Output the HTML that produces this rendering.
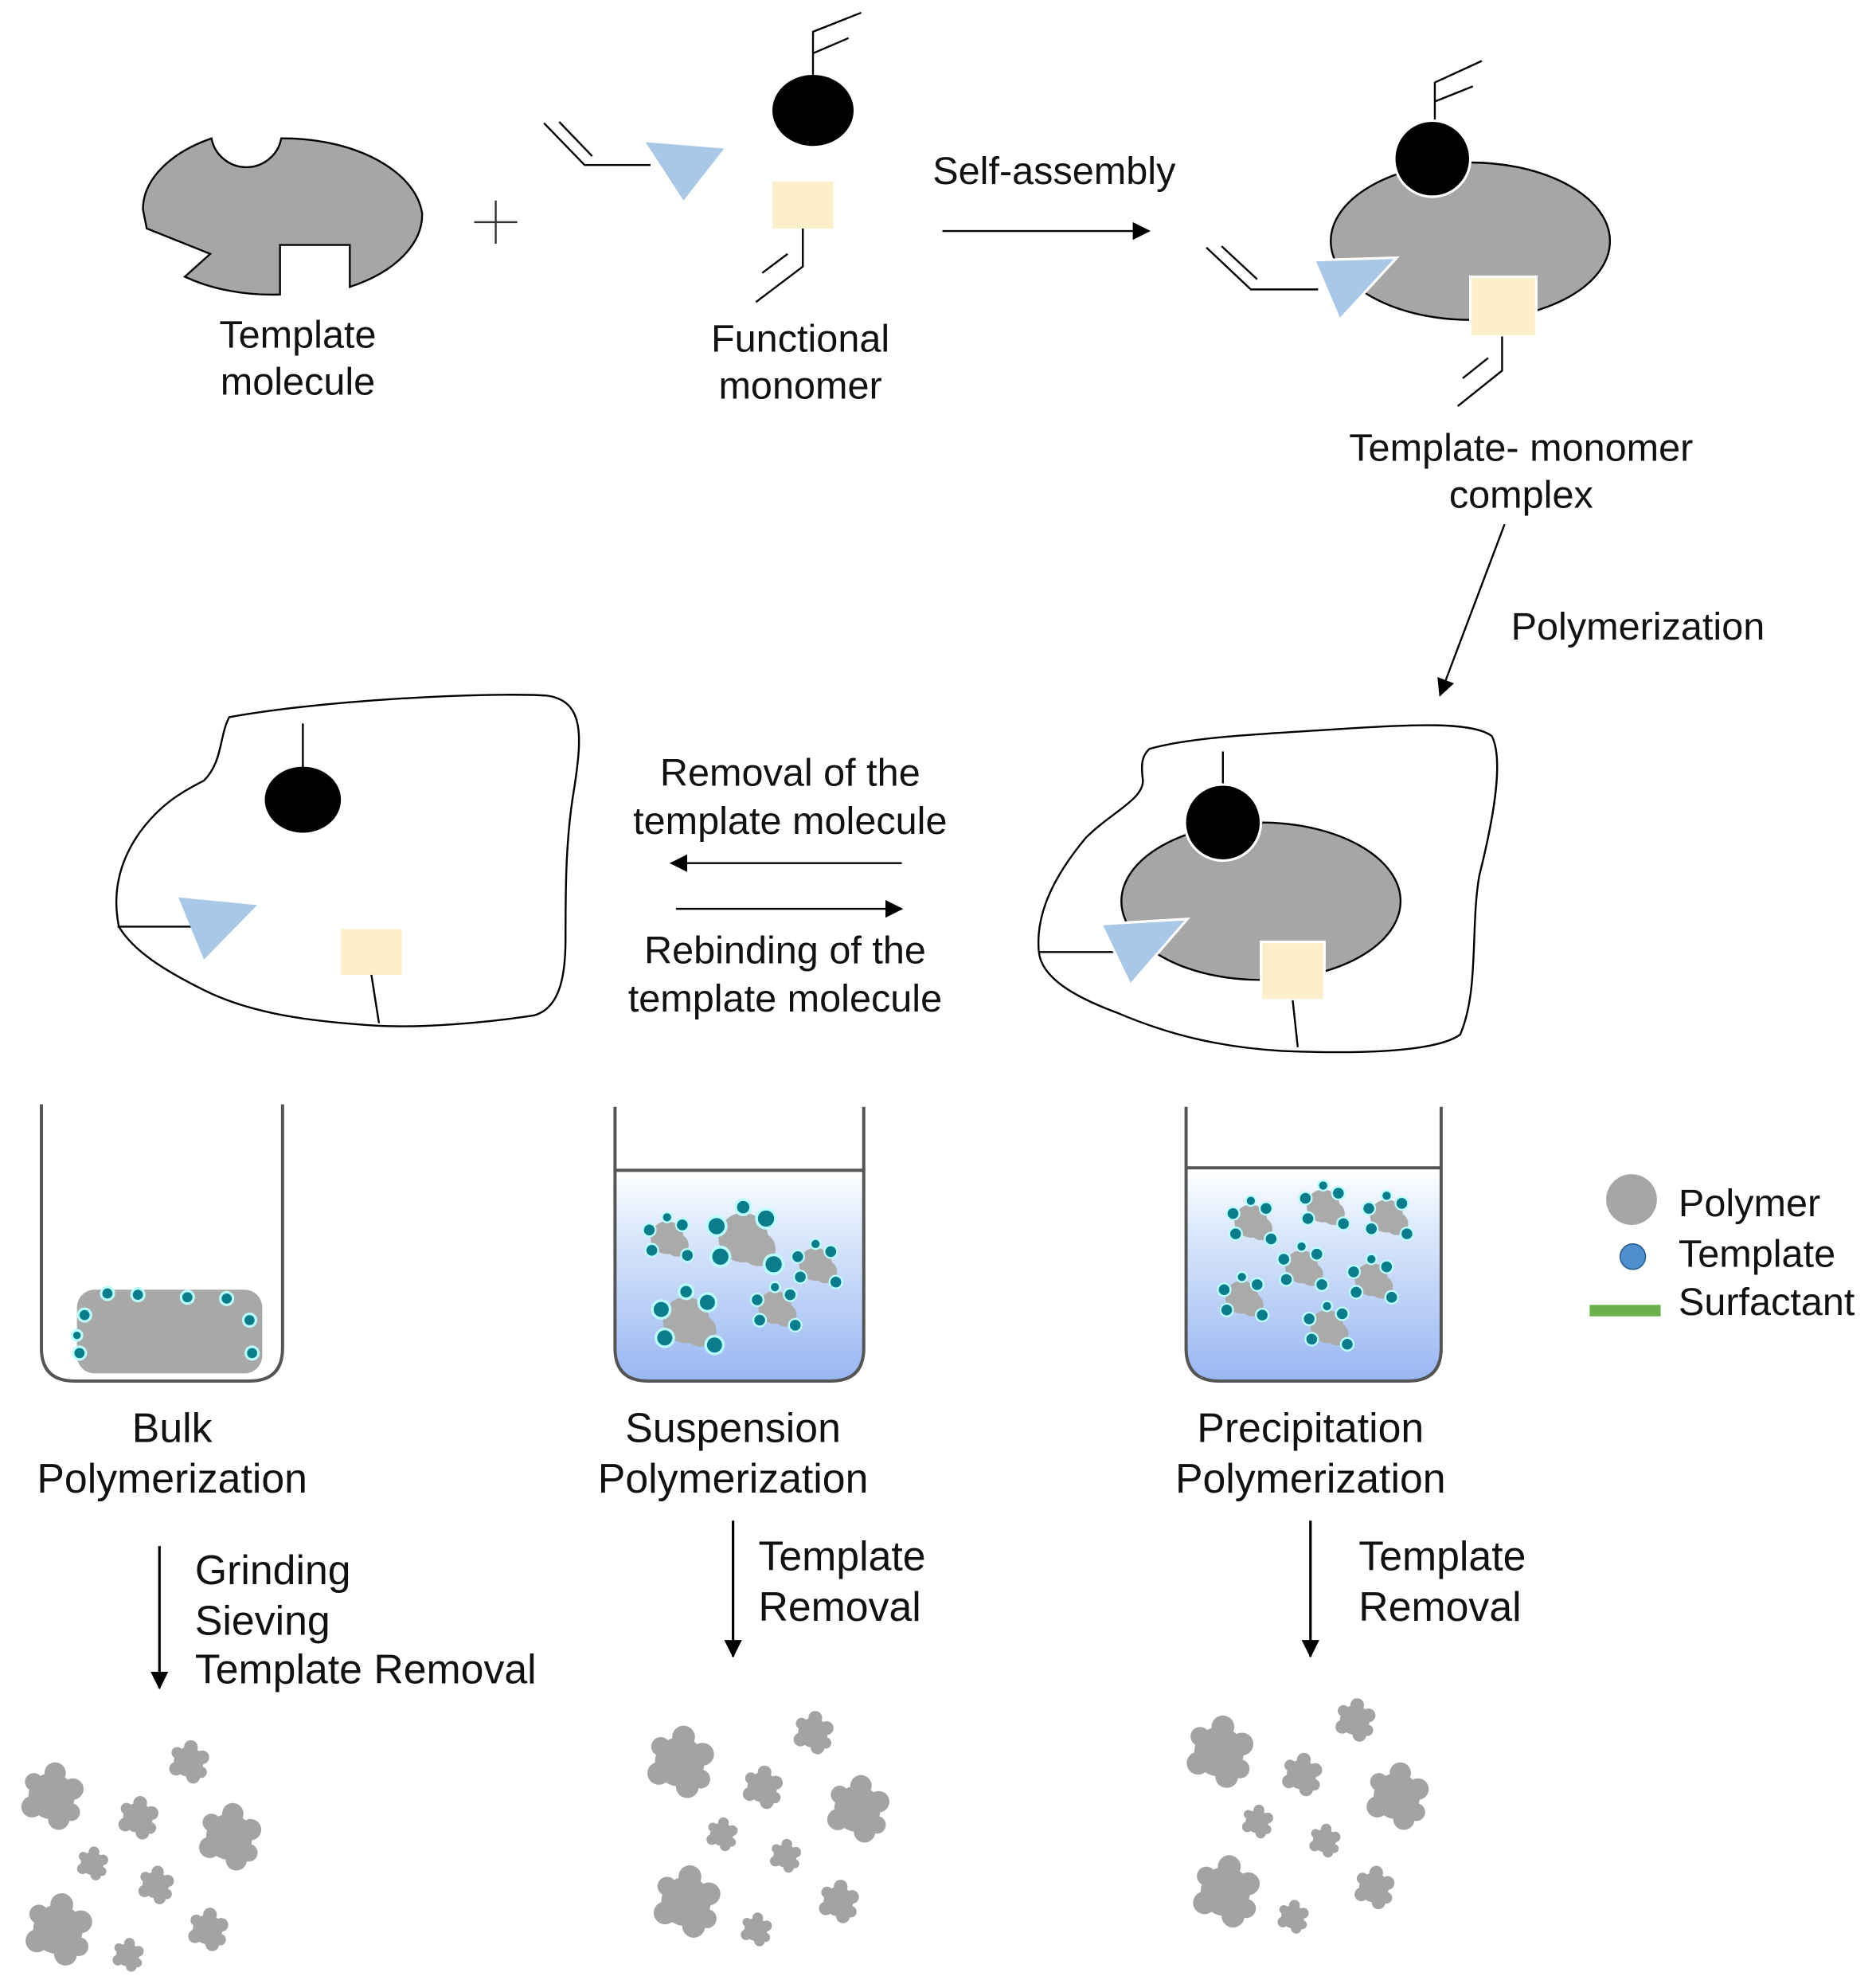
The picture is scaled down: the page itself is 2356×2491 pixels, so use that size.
<!DOCTYPE html>
<html><head><meta charset="utf-8"><style>
html,body{margin:0;padding:0;background:#fff}
svg{display:block}
text{font-family:"Liberation Sans",sans-serif;fill:#111}
</style></head><body>
<svg width="2356" height="2491" viewBox="0 0 1477 1563" xmlns="http://www.w3.org/2000/svg">
<defs>
<marker id="ah2" markerWidth="14" markerHeight="14" refX="13" refY="7" orient="auto" markerUnits="userSpaceOnUse"><path d="M0,0 L14,7 L0,14 z" fill="#000"/></marker>
<linearGradient id="liq" x1="0" y1="0" x2="0" y2="1"><stop offset="0" stop-color="#ffffff"/><stop offset="0.3" stop-color="#dbe8fb"/><stop offset="1" stop-color="#99b6f2"/></linearGradient>
<g id="gear"><circle r="13" fill="#a3a3a3"/><circle cx="12" cy="-4" r="6" fill="#a3a3a3"/><circle cx="-11" cy="6" r="6" fill="#a3a3a3"/><circle cx="2" cy="-13" r="6" fill="#a3a3a3"/><circle cx="4" cy="13" r="6" fill="#a3a3a3"/><circle cx="-10" cy="-8" r="5" fill="#a3a3a3"/><circle cx="11" cy="9" r="5" fill="#a3a3a3"/></g>
<g id="cl"><circle r="13" fill="#aaa"/><circle cx="8" cy="6" r="9" fill="#aaa"/><circle cx="-14" cy="-6" r="5" fill="#0a7c8c" stroke="#bff" stroke-width="1.5"/><circle cx="12" cy="-10" r="5" fill="#0a7c8c" stroke="#bff" stroke-width="1.5"/><circle cx="-12" cy="10" r="5" fill="#0a7c8c" stroke="#bff" stroke-width="1.5"/><circle cx="16" cy="14" r="5" fill="#0a7c8c" stroke="#bff" stroke-width="1.5"/><circle cx="0" cy="-16" r="4" fill="#0a7c8c" stroke="#bff" stroke-width="1.5"/></g>
</defs>

<path d="M112,165 A110,65 0 0 1 166,109 A28,28 0 0 0 221,109 A110,65 0 0 1 332,168 A110,65 0 0 1 275,226 L275,193 L220,193 L220,232 A110,65 0 0 1 145,218 L165,200 L115,180 Z" fill="#a6a6a6" stroke="#000" stroke-width="1.5"/>
<g font-size="30.5" text-anchor="middle">
<text x="234" y="274">Template</text>
<text x="234" y="311">molecule</text>
<text x="630" y="277">Functional</text>
<text x="630" y="314">monomer</text>
<text x="830" y="145">Self-assembly</text>
<text x="1198" y="363">Template- monomer</text>
<text x="1198" y="400">complex</text>
<text x="1290" y="504">Polymerization</text>
<text x="622" y="619">Removal of the</text>
<text x="622" y="657">template molecule</text>
<text x="618" y="759">Rebinding of the</text>
<text x="618" y="797">template molecule</text>
</g>
<path d="M390,158 V192 M373,175 H407" stroke="#333" stroke-width="1.5"/>

<path d="M428,97 L460,130 L512,130 M440,96 L466,123" stroke="#000" stroke-width="1.5" fill="none"/>
<polygon points="508,112 570,117 538,158" fill="#a9c8e8"/>
<ellipse cx="640" cy="87" rx="32" ry="28" fill="#000"/>
<path d="M640,59 V25 L678,10 M640,42 L668,30" stroke="#000" stroke-width="1.5" fill="none"/>
<rect x="608" y="143" width="48" height="37" fill="#fdefc9"/>
<path d="M632,180 V210 L595,238 M620,200 L600,215" stroke="#000" stroke-width="1.5" fill="none"/>

<line x1="742" y1="182" x2="905" y2="182" stroke="#000" stroke-width="1.5" marker-end="url(#ah2)"/>

<ellipse cx="1158" cy="190" rx="110" ry="62" fill="#a6a6a6" stroke="#000" stroke-width="1.5"/>
<path d="M1130,97 V65 L1167,48 M1130,80 L1160,68" stroke="#000" stroke-width="1.5" fill="none"/>
<circle cx="1128" cy="125" r="30" fill="#000" stroke="#fff" stroke-width="2"/>
<path d="M950,195 L985,228 L1038,228 M962,194 L990,220" stroke="#000" stroke-width="1.5" fill="none"/>
<polygon points="1035,205 1100,203 1055,252" fill="#a9c8e8" stroke="#fff" stroke-width="2"/>
<rect x="1158" y="218" width="52" height="47" fill="#fdefc9" stroke="#fff" stroke-width="2"/>
<path d="M1183,265 V292 L1148,320 M1172,282 L1152,298" stroke="#000" stroke-width="1.5" fill="none"/>

<line x1="1185" y1="413" x2="1134" y2="548" stroke="#000" stroke-width="1.5" marker-end="url(#ah2)"/>

<path d="M180,565 C250,552 380,545 430,548 C460,552 458,580 452,620 C445,660 445,700 445,740 C445,775 438,795 420,800 C380,806 330,810 295,808 C250,805 200,800 160,780 C130,765 105,750 93,730 C88,705 92,680 110,655 C125,635 140,625 160,615 C175,600 172,580 180,565 Z" fill="#fff" stroke="#000" stroke-width="1.5"/>
<line x1="238" y1="570" x2="238" y2="605" stroke="#000" stroke-width="1.5"/>
<ellipse cx="238" cy="630" rx="30" ry="26" fill="#000"/>
<line x1="92" y1="730" x2="152" y2="730" stroke="#000" stroke-width="1.5"/>
<polygon points="140,707 202,713 160,756" fill="#a9c8e8"/>
<rect x="268" y="732" width="48" height="36" fill="#fdefc9"/>
<line x1="292" y1="768" x2="298" y2="806" stroke="#000" stroke-width="1.5"/>

<line x1="710" y1="680" x2="528" y2="680" stroke="#000" stroke-width="1.5" marker-end="url(#ah2)"/>
<line x1="532" y1="716" x2="710" y2="716" stroke="#000" stroke-width="1.5" marker-end="url(#ah2)"/>

<path d="M905,590 C940,580 1000,578 1060,574 C1110,571 1160,568 1175,580 C1185,600 1175,650 1165,690 C1158,730 1165,780 1150,815 C1130,830 1060,830 1010,828 C960,825 920,815 880,798 C845,785 820,770 818,750 C815,720 830,690 855,660 C875,640 900,630 900,615 C898,600 900,595 905,590 Z" fill="#fff" stroke="#000" stroke-width="1.5"/>
<ellipse cx="993" cy="710" rx="110" ry="62" fill="#a6a6a6" stroke="#000" stroke-width="1.5"/>
<line x1="963" y1="592" x2="963" y2="620" stroke="#000" stroke-width="1.5"/>
<circle cx="963" cy="648" r="30" fill="#000" stroke="#fff" stroke-width="2"/>
<line x1="818" y1="750" x2="882" y2="750" stroke="#000" stroke-width="1.5"/>
<polygon points="867,728 935,724 890,776" fill="#a9c8e8" stroke="#fff" stroke-width="2"/>
<rect x="993" y="742" width="50" height="46" fill="#fdefc9" stroke="#fff" stroke-width="2"/>
<line x1="1018" y1="788" x2="1022" y2="825" stroke="#000" stroke-width="1.5"/>

<rect x="60" y="1016" width="146" height="66" rx="14" fill="#a8a8a8"/>
<g fill="#0a7c8c" stroke="#bff" stroke-width="2">
<circle cx="66" cy="1036" r="5"/><circle cx="84" cy="1019" r="5"/><circle cx="108" cy="1020" r="5"/><circle cx="147" cy="1022" r="5"/><circle cx="178" cy="1023" r="5"/><circle cx="196" cy="1040" r="5"/><circle cx="198" cy="1066" r="5"/><circle cx="62" cy="1066" r="5"/><circle cx="60" cy="1052" r="4"/>
</g>
<path d="M32,870 V1062 Q32,1088 58,1088 H196 Q222,1088 222,1062 V870" fill="none" stroke="#555" stroke-width="2.5"/>

<path d="M484,922 H680 V1062 Q680,1088 654,1088 H510 Q484,1088 484,1062 Z" fill="url(#liq)"/>
<use href="#cl" x="525" y="975"/>
<use href="#cl" x="585" y="975" transform="translate(585,975) scale(1.5) translate(-585,-975)"/>
<use href="#cl" x="642" y="996"/>
<use href="#cl" x="540" y="1040" transform="translate(540,1040) scale(1.4) translate(-540,-1040)"/>
<use href="#cl" x="610" y="1030"/>
<path d="M484,872 V1062 Q484,1088 510,1088 H654 Q680,1088 680,1062 V872 M484,922 H680" fill="none" stroke="#555" stroke-width="2.5"/>

<path d="M934,920 H1135 V1062 Q1135,1088 1109,1088 H960 Q934,1088 934,1062 Z" fill="url(#liq)"/>
<use href="#cl" x="985" y="962"/><use href="#cl" x="1042" y="950"/><use href="#cl" x="1092" y="958"/>
<use href="#cl" x="1025" y="998"/><use href="#cl" x="1080" y="1008"/><use href="#cl" x="978" y="1022"/>
<use href="#cl" x="1045" y="1045"/>
<path d="M934,872 V1062 Q934,1088 960,1088 H1109 Q1135,1088 1135,1062 V872 M934,920 H1135" fill="none" stroke="#555" stroke-width="2.5"/>

<circle cx="1285" cy="945" r="20" fill="#a6a6a6"/>
<circle cx="1286" cy="990" r="10" fill="#4f8fd0" stroke="#2a5f90" stroke-width="1"/>
<rect x="1252" y="1028" width="56" height="9" fill="#6ab04c"/>
<g font-size="30.5">
<text x="1322" y="958">Polymer</text>
<text x="1322" y="998">Template</text>
<text x="1322" y="1036">Surfactant</text>
</g>

<g font-size="32.5" text-anchor="middle">
<text x="135" y="1136">Bulk</text><text x="135" y="1176">Polymerization</text>
<text x="577" y="1136">Suspension</text><text x="577" y="1176">Polymerization</text>
<text x="1032" y="1136">Precipitation</text><text x="1032" y="1176">Polymerization</text>
</g>
<line x1="125" y1="1218" x2="125" y2="1330" stroke="#000" stroke-width="2" marker-end="url(#ah2)"/>
<g font-size="32.5">
<text x="153" y="1248">Grinding</text><text x="153" y="1288">Sieving</text><text x="153" y="1326">Template Removal</text>
<text x="597" y="1237">Template</text><text x="597" y="1277">Removal</text>
<text x="1070" y="1237">Template</text><text x="1070" y="1277">Removal</text>
</g>
<line x1="577" y1="1198" x2="577" y2="1305" stroke="#000" stroke-width="2" marker-end="url(#ah2)"/>
<line x1="1032" y1="1198" x2="1032" y2="1305" stroke="#000" stroke-width="2" marker-end="url(#ah2)"/>

<g>
<use href="#gear" transform="translate(40,1415) scale(1.4)"/>
<use href="#gear" transform="translate(148,1388) scale(0.9)"/>
<use href="#gear" transform="translate(108,1432) scale(0.9)"/>
<use href="#gear" transform="translate(180,1447) scale(1.4)"/>
<use href="#gear" transform="translate(72,1468) scale(0.7)"/>
<use href="#gear" transform="translate(122,1485) scale(0.8)"/>
<use href="#gear" transform="translate(45,1520) scale(1.5)"/>
<use href="#gear" transform="translate(163,1520) scale(0.9)"/>
<use href="#gear" transform="translate(100,1540) scale(0.7)"/>

<use href="#gear" transform="translate(535,1388) scale(1.5)"/>
<use href="#gear" transform="translate(640,1365) scale(0.9)"/>
<use href="#gear" transform="translate(600,1408) scale(0.9)"/>
<use href="#gear" transform="translate(675,1425) scale(1.4)"/>
<use href="#gear" transform="translate(568,1445) scale(0.7)"/>
<use href="#gear" transform="translate(618,1462) scale(0.7)"/>
<use href="#gear" transform="translate(540,1498) scale(1.5)"/>
<use href="#gear" transform="translate(660,1498) scale(0.9)"/>
<use href="#gear" transform="translate(595,1520) scale(0.7)"/>

<use href="#gear" transform="translate(960,1380) scale(1.5)"/>
<use href="#gear" transform="translate(1067,1355) scale(0.9)"/>
<use href="#gear" transform="translate(1025,1398) scale(0.9)"/>
<use href="#gear" transform="translate(1100,1415) scale(1.4)"/>
<use href="#gear" transform="translate(990,1435) scale(0.7)"/>
<use href="#gear" transform="translate(1043,1450) scale(0.7)"/>
<use href="#gear" transform="translate(965,1490) scale(1.5)"/>
<use href="#gear" transform="translate(1082,1487) scale(0.9)"/>
<use href="#gear" transform="translate(1018,1510) scale(0.7)"/>
</g>
</svg>
</body></html>
